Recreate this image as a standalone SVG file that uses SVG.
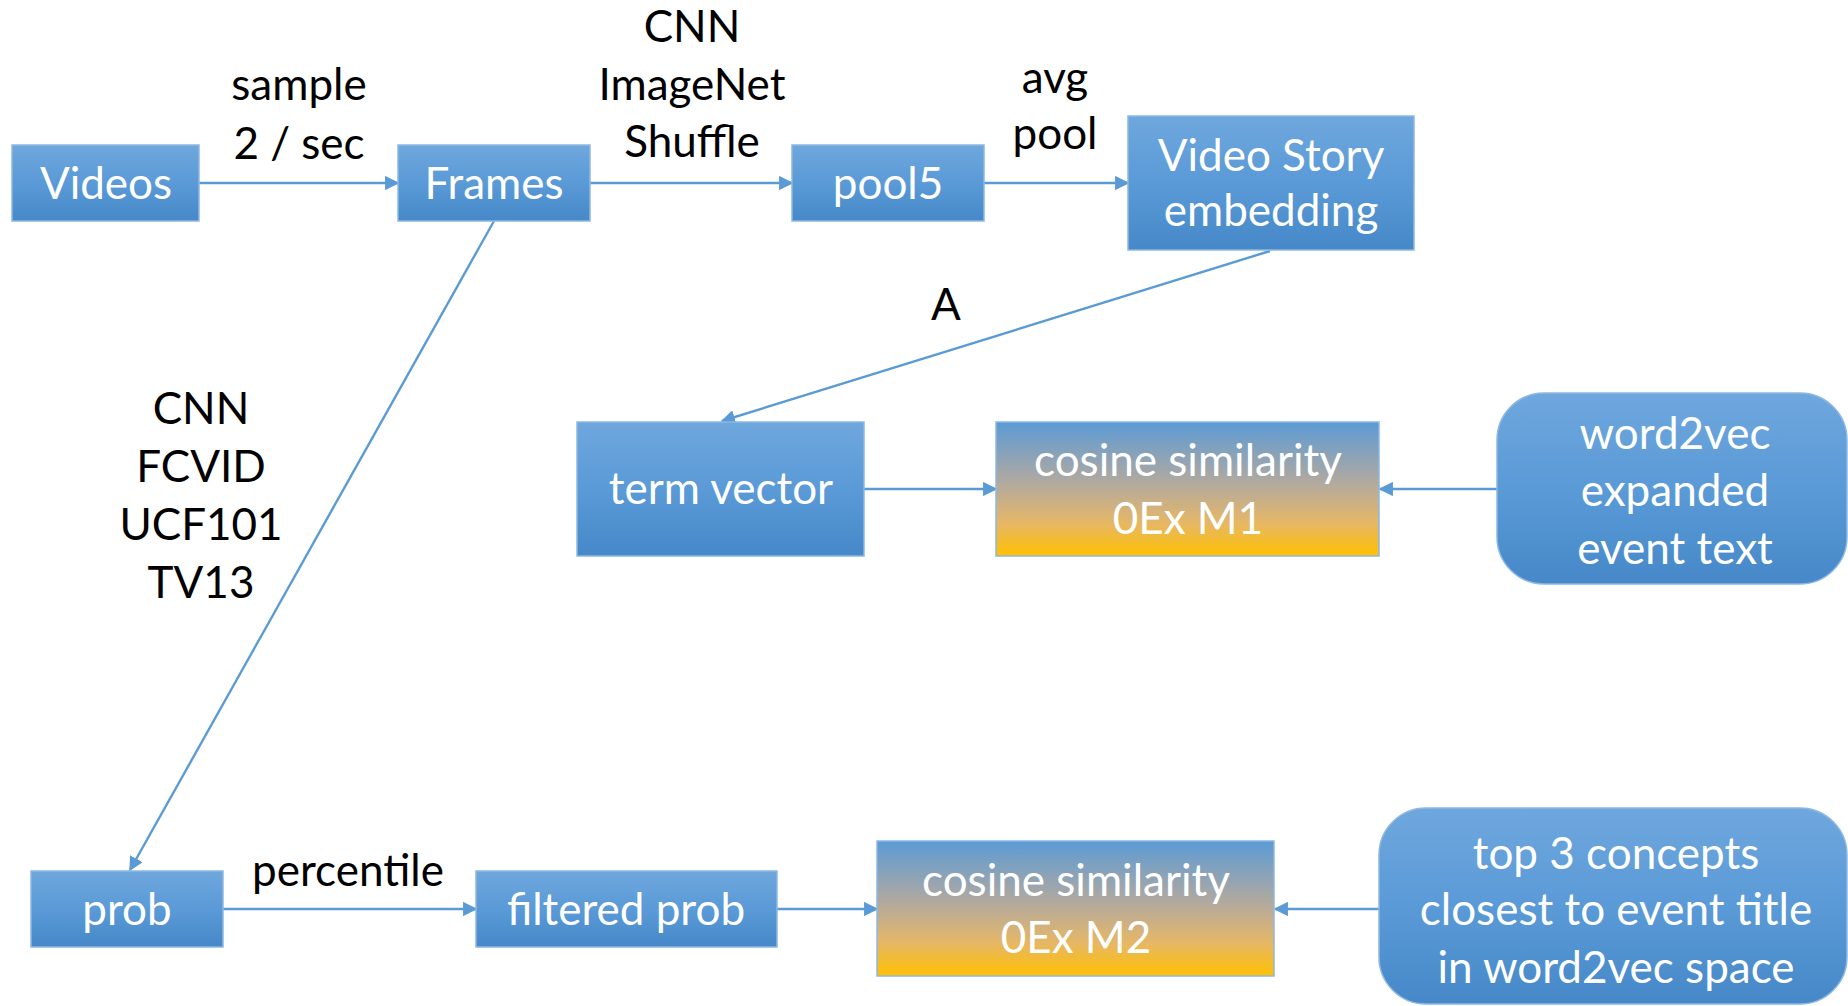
<svg xmlns="http://www.w3.org/2000/svg" width="1848" height="1006" viewBox="0 0 1848 1006">
<style>
.box{fill:url(#blue);stroke:#8DB8E3;stroke-width:1.5}
.cos{fill:url(#cosg);stroke:#8DB8E3;stroke-width:1.5}
.bt{font-family:Lato,"Liberation Sans",sans-serif;font-size:44px;fill:#fff;text-anchor:middle}
.lb{font-family:Lato,"Liberation Sans",sans-serif;font-size:44px;fill:#000;text-anchor:middle}
.cn{stroke:#5B9BD5;stroke-width:2.4;fill:none;marker-end:url(#ah)}
</style>
<defs>
<linearGradient id="blue" x1="0" y1="0" x2="0" y2="1">
<stop offset="0" stop-color="#6FA7DD"/>
<stop offset="0.5" stop-color="#5A9AD7"/>
<stop offset="1" stop-color="#4688C8"/>
</linearGradient>
<linearGradient id="cosg" x1="0" y1="0" x2="0" y2="1">
<stop offset="0" stop-color="#5B9BD5"/>
<stop offset="0.45" stop-color="#B1A9A0"/>
<stop offset="0.75" stop-color="#E5B767"/>
<stop offset="1" stop-color="#FFC000"/>
</linearGradient>
<marker id="ah" viewBox="0 0 10 10" refX="9" refY="5" markerWidth="6" markerHeight="6" markerUnits="strokeWidth" orient="auto">
<path d="M0,0 L10,5 L0,10 z" fill="#5B9BD5"/>
</marker>
</defs>
<rect width="1848" height="1006" fill="#fff"/>
<g id="connectors">
<line class="cn" x1="199" y1="183" x2="398" y2="183"/>
<line class="cn" x1="590" y1="183" x2="792" y2="183"/>
<line class="cn" x1="984" y1="183" x2="1128" y2="183"/>
<line class="cn" x1="1270" y1="251" x2="722" y2="421"/>
<line class="cn" x1="494" y1="221" x2="130" y2="870"/>
<line class="cn" x1="864" y1="489" x2="996" y2="489"/>
<line class="cn" x1="1497" y1="489" x2="1380" y2="489"/>
<line class="cn" x1="223" y1="909" x2="476" y2="909"/>
<line class="cn" x1="777" y1="909" x2="877" y2="909"/>
<line class="cn" x1="1379" y1="909" x2="1275" y2="909"/>
</g>
<g id="labels">
<text class="lb" x="299" y="100">sample</text>
<text class="lb" x="299" y="159">2 / sec</text>
<text class="lb" x="692" y="42">CNN</text>
<text class="lb" x="692" y="100">ImageNet</text>
<text class="lb" x="692" y="157">Shuffle</text>
<text class="lb" x="1055" y="93">avg</text>
<text class="lb" x="1055" y="149">pool</text>
<text class="lb" x="946" y="320">A</text>
<text class="lb" x="201" y="424">CNN</text>
<text class="lb" x="201" y="482">FCVID</text>
<text class="lb" x="201" y="540">UCF101</text>
<text class="lb" x="201" y="598">TV13</text>
<text class="lb" x="348" y="886">percentile</text>
</g>
<g id="videos"><rect class="box" x="12" y="145" width="187" height="76"/><text class="bt" x="106" y="199">Videos</text></g>
<g id="frames"><rect class="box" x="398" y="145" width="192" height="76"/><text class="bt" x="494" y="199">Frames</text></g>
<g id="pool5"><rect class="box" x="792" y="145" width="192" height="76"/><text class="bt" x="888" y="199">pool5</text></g>
<g id="videostory"><rect class="box" x="1128" y="116" width="286" height="134"/><text class="bt" x="1271" y="171">Video Story</text><text class="bt" x="1271" y="226">embedding</text></g>
<g id="termvector"><rect class="box" x="577" y="422" width="287" height="134"/><text class="bt" x="721" y="504">term vector</text></g>
<g id="cos1"><rect class="cos" x="996" y="422" width="383" height="134"/><text class="bt" x="1188" y="476">cosine similarity</text><text class="bt" x="1188" y="534">0Ex M1</text></g>
<g id="word2vec"><rect class="box" x="1497" y="393" width="350" height="191" rx="47" ry="47"/><text class="bt" x="1675" y="449">word2vec</text><text class="bt" x="1675" y="506">expanded</text><text class="bt" x="1675" y="564">event text</text></g>
<g id="prob"><rect class="box" x="31" y="871" width="192" height="76"/><text class="bt" x="127" y="925">prob</text></g>
<g id="filteredprob"><rect class="box" x="476" y="871" width="301" height="76"/><text class="bt" x="626" y="925">filtered prob</text></g>
<g id="cos2"><rect class="cos" x="877" y="841" width="397" height="135"/><text class="bt" x="1076" y="896">cosine similarity</text><text class="bt" x="1076" y="953">0Ex M2</text></g>
<g id="top3"><rect class="box" x="1379" y="808" width="468" height="196" rx="47" ry="47"/><text class="bt" x="1616" y="869">top 3 concepts</text><text class="bt" x="1616" y="925">closest to event title</text><text class="bt" x="1616" y="983">in word2vec space</text></g>
</svg>
